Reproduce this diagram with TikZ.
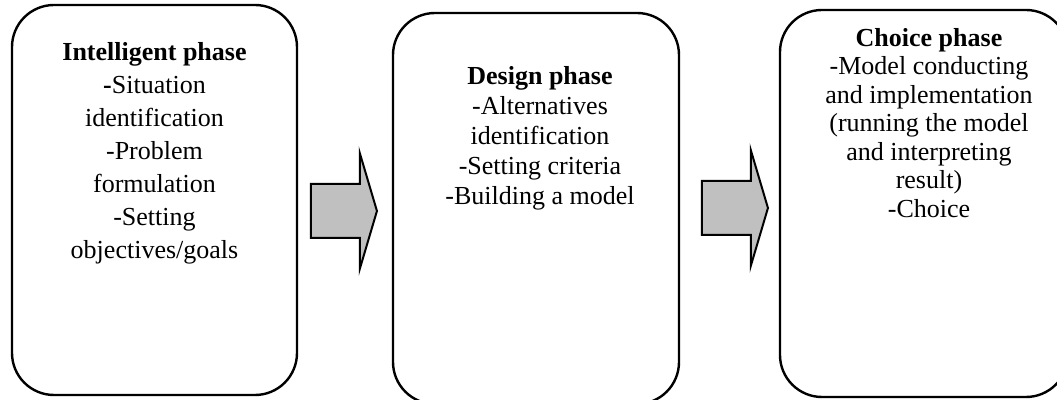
\documentclass[tikz,border=0pt]{standalone}
\usepackage{fontspec}
\setmainfont{Liberation Serif}
\usetikzlibrary{positioning,shapes.arrows}
\definecolor{arrowgray}{RGB}{192,192,192}

\begin{document}
\begin{tikzpicture}[x=0.5pt,y=-0.5pt,
        phase/.style={draw,rounded corners=21pt,line width=1.2pt,inner sep=0pt},
        phasetext/.style={align=center,inner sep=0pt,font=\fontsize{13}{#1}\selectfont},
        flow/.style={single arrow,draw,fill=arrowgray,line width=1pt,inner sep=0pt,
            inner ysep=13pt,minimum width=0pt,minimum height=33pt,
            single arrow head extend=15.5pt,single arrow tip angle=147,anchor=tip}]

    \useasboundingbox (0,0) rectangle (1057,400);
    \clip (0,0) rectangle (1057,400);

    % the three phase boxes
    \node[phase,minimum width=142.5pt,minimum height=195pt] (intel) at (154.5,200) {};
    \node[phase,minimum width=143pt,minimum height=195.5pt] (design) at (536,208.5) {};
    \node[phase,minimum width=144pt,minimum height=193.5pt] (choice) at (924,203.5) {};

    \node[phasetext=16.5pt,below=19pt of intel.north] (intelText) {%
        \textbf{Intelligent phase}\\ {\bfseries -}Situation\\ identification\\
        -Problem\\ formulation\\ -Setting\\ objectives/goals};
    \node[phasetext=15pt,below=27pt of design.north,xshift=2pt] (designText) {%
        \textbf{Design phase}\\ -Alternatives\\ identification\\
        -Setting criteria\\ -Building a model};
    \node[phasetext=14.25pt,below=9.5pt of choice.north,xshift=2.5pt] (choiceText) {%
        \textbf{Choice phase}\\ -Model conducting\\ and implementation\\
        (running the model\\ and interpreting\\ result)\\ -Choice};

    % block arrows between phases
    \node[flow] (toDesign) at (378,211) {};
    \node[flow] (toChoice) at (769,208) {};
\end{tikzpicture}
\end{document}
